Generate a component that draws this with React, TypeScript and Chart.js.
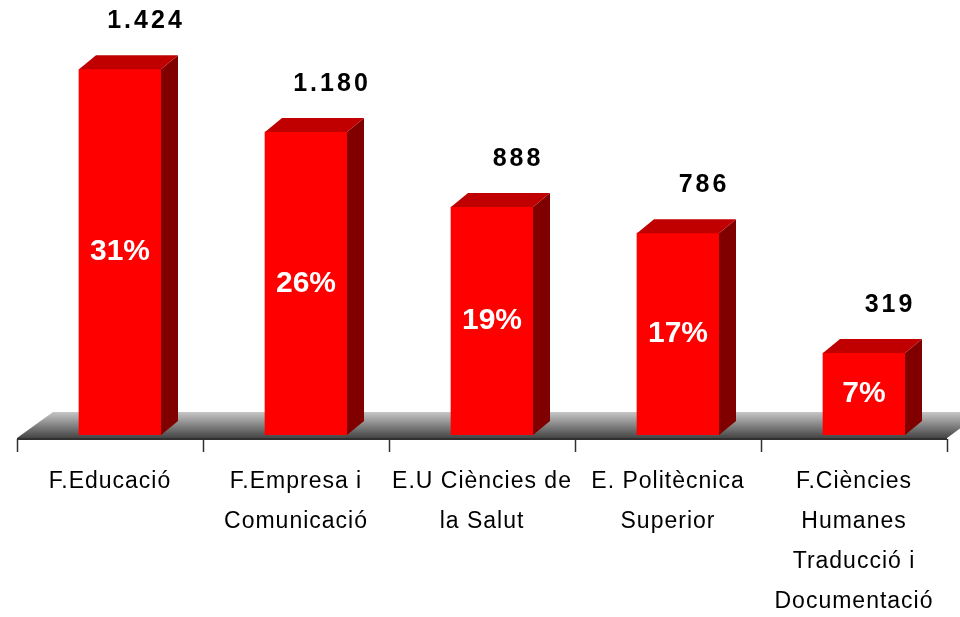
import React, { useEffect, useRef } from 'react';
import { Chart, registerables } from 'chart.js';

Chart.register(...registerables);

const categories: string[][] = [
  ['F.Educació'],
  ['F.Empresa i', 'Comunicació'],
  ['E.U Ciències de', 'la Salut'],
  ['E. Politècnica', 'Superior'],
  ['F.Ciències', 'Humanes', 'Traducció i', 'Documentació'],
];
const students: number[] = [1424, 1180, 888, 786, 319];
const valueLabels: string[] = ['1.424', '1.180', '888', '786', '319'];
const percentLabels: string[] = ['31%', '26%', '19%', '17%', '7%'];
const Y_MAX = 1690;

const DX = 17;
const DY = 14;
const BAR_SHIFT = 10;
const FLOOR_DX = 36;
const FLOOR_DY = 26;
const FONT = "'Liberation Sans', Arial, sans-serif";

const bar3d = {
  id: 'bar3d',
  afterDatasetsUpdate(chart: any) {
    chart.getDatasetMeta(0).data.forEach((el: any) => {
      el.x += BAR_SHIFT;
    });
  },
  beforeDatasetsDraw(chart: any) {
    const { ctx, chartArea: a, scales } = chart;
    const yFront = a.bottom + 3;
    const yBack = yFront - FLOOR_DY;
    ctx.save();
    const g = ctx.createLinearGradient(0, yBack, 0, yFront);
    g.addColorStop(0, '#c6c6c6');
    g.addColorStop(1, '#454545');
    ctx.fillStyle = g;
    ctx.beginPath();
    ctx.moveTo(a.left, yFront);
    ctx.lineTo(a.left + FLOOR_DX, yBack);
    ctx.lineTo(a.right + FLOOR_DX, yBack);
    ctx.lineTo(a.right, yFront);
    ctx.closePath();
    ctx.fill();
    // axis line
    ctx.strokeStyle = '#303030';
    ctx.lineWidth = 2;
    ctx.beginPath();
    ctx.moveTo(a.left, yFront + 1);
    ctx.lineTo(a.right, yFront + 1);
    ctx.stroke();
    // category ticks
    const xs = scales.x;
    const n = categories.length;
    const step = (a.right - a.left) / n;
    ctx.lineWidth = 1.5;
    for (let i = 0; i <= n; i++) {
      const px = i < n ? xs.getPixelForValue(i) - step / 2 : xs.getPixelForValue(n - 1) + step / 2;
      ctx.beginPath();
      ctx.moveTo(Math.round(px) + 0.5, yFront + 1);
      ctx.lineTo(Math.round(px) + 0.5, yFront + 14);
      ctx.stroke();
    }
    ctx.restore();
  },
  afterDatasetsDraw(chart: any) {
    const { ctx } = chart;
    const meta = chart.getDatasetMeta(0);
    ctx.save();
    meta.data.forEach((el: any, i: number) => {
      const half = el.width / 2;
      const l = el.x - half;
      const r = el.x + half;
      const t = el.y;
      const b = el.base;
      // side
      ctx.fillStyle = '#800000';
      ctx.beginPath();
      ctx.moveTo(r, t);
      ctx.lineTo(r + DX, t - DY);
      ctx.lineTo(r + DX, b - DY);
      ctx.lineTo(r, b);
      ctx.closePath();
      ctx.fill();
      // top
      ctx.fillStyle = '#c00000';
      ctx.beginPath();
      ctx.moveTo(l, t);
      ctx.lineTo(l + DX, t - DY);
      ctx.lineTo(r + DX, t - DY);
      ctx.lineTo(r, t);
      ctx.closePath();
      ctx.fill();
      // value label
      ctx.fillStyle = '#000';
      ctx.font = `bold 25px ${FONT}`;
      ctx.textAlign = 'center';
      ctx.textBaseline = 'middle';
      (ctx as any).letterSpacing = '3px';
      ctx.fillText(valueLabels[i], el.x + 26, t - 48);
      // percent label
      (ctx as any).letterSpacing = '0px';
      ctx.fillStyle = '#fff';
      ctx.font = `bold 30px ${FONT}`;
      ctx.fillText(percentLabels[i], el.x, (t + b) / 2);
    });
    ctx.restore();
  },
  afterDraw(chart: any) {
    const { ctx, chartArea: a, scales } = chart;
    ctx.save();
    ctx.fillStyle = '#000';
    ctx.font = `23px ${FONT}`;
    ctx.textAlign = 'center';
    ctx.textBaseline = 'middle';
    (ctx as any).letterSpacing = '1px';
    categories.forEach((lines, i) => {
      const cx = scales.x.getPixelForValue(i);
      lines.forEach((ln, j) => {
        ctx.fillText(ln, cx, a.bottom + 47 + j * 40);
      });
    });
    ctx.restore();
  },
};

export default function App() {
  const ref = useRef<HTMLCanvasElement>(null);
  useEffect(() => {
    document.body.style.margin = '0';
    const chart = new Chart(ref.current as HTMLCanvasElement, {
      type: 'bar',
      data: {
        labels: categories.map((c) => c.join(' ')),
        datasets: [
          {
            data: students,
            backgroundColor: '#ff0000',
            borderWidth: 0,
            barThickness: 82,
          },
        ],
      },
      options: {
        responsive: false,
        animation: false,
        events: [],
        layout: { padding: { left: 17, right: 13, top: 1, bottom: 182 } },
        scales: {
          x: { display: false },
          y: { display: false, min: 0, max: Y_MAX },
        },
        plugins: { legend: { display: false }, tooltip: { enabled: false } },
      },
      plugins: [bar3d],
    });
    return () => chart.destroy();
  }, []);
  return <canvas ref={ref} width={960} height={617} style={{ display: 'block' }} />;
}
